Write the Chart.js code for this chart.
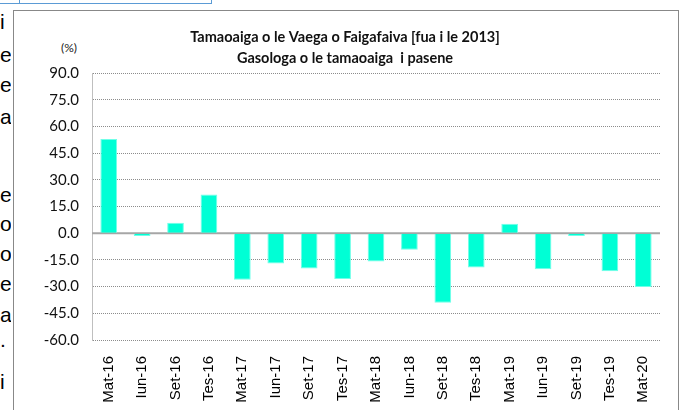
<!DOCTYPE html>
<html lang="sm">
<head>
    <meta charset="UTF-8">
    <title>Tamaoaiga o le Vaega o Faigafaiva</title>
    <script src="https://cdn.jsdelivr.net/npm/chart.js"></script>
    <style>
        body {
            margin: 0;
            width: 681px;
            height: 410px;
            overflow: hidden;
            background: #fff;
            position: relative;
            font-family: "Liberation Sans", Arial, sans-serif;
        }
        .topbox {
            position: absolute;
            left: -2px;
            top: -20px;
            width: 212px;
            height: 22px;
            border: 1px solid #5b9bd5;
        }
        .topbox-div {
            position: absolute;
            left: 19px;
            top: -20px;
            width: 0;
            height: 23px;
            border-left: 1px solid #5b9bd5;
        }
        .side {
            position: absolute;
            left: 0;
            top: 0;
            width: 11px;
            height: 410px;
            overflow: hidden;
        }
        .side span {
            position: absolute;
            left: 0;
            font-size: 21px;
            line-height: 21px;
            color: #000;
        }
        .frame {
            position: absolute;
            left: 13px;
            top: 10px;
            width: 664px;
            height: 420px;
            border: 1px solid #888;
        }
        .unit {
            position: absolute;
            left: 61px;
            top: 40px;
            font-family: Lato, sans-serif;
            font-size: 12px;
            color: #222;
        }
        canvas {
            position: absolute;
            left: 0;
            top: 0;
        }
    </style>
</head>
<body>
    <div class="topbox"></div>
    <div class="topbox-div"></div>
    <div class="side">
        <span style="top:11px">i</span>
        <span style="top:44px">e</span>
        <span style="top:74px">e</span>
        <span style="top:106px">a</span>
        <span style="top:184px">e</span>
        <span style="top:213px">o</span>
        <span style="top:243px">o</span>
        <span style="top:273px">e</span>
        <span style="top:304px">a</span>
        <span style="top:329px">.</span>
        <span style="top:371px">i</span>
    </div>
    <div class="frame"></div>
    <div class="unit">(%)</div>
    <canvas id="chart" width="681" height="410"></canvas>

    <script>
        // kuata
        const quarters = ['Mat-16', 'Iun-16', 'Set-16', 'Tes-16', 'Mat-17', 'Iun-17', 'Set-17', 'Tes-17',
                          'Mat-18', 'Iun-18', 'Set-18', 'Tes-18', 'Mat-19', 'Iun-19', 'Set-19', 'Tes-19', 'Mat-20'];
        // gasologa o le tamaoaiga i pasene (%)
        const growth = [52.9, -1.5, 5.9, 21.8, -26.2, -17.0, -19.8, -25.7,
                        -15.9, -9.3, -39.1, -19.3, 5.3, -20.2, -1.5, -21.3, -30.2];
        const titleLines = ['Tamaoaiga o le Vaega o Faigafaiva [fua i le 2013]',
                            'Gasologa o le tamaoaiga  i pasene'];
        const yMin = -60, yMax = 90, yStep = 15;

        // linea o le zero
        const zeroLine = {
            id: 'zeroLine',
            beforeDatasetsDraw(chart) {
                const y = chart.scales.y.getPixelForValue(0);
                const { left, right } = chart.chartArea;
                const ctx = chart.ctx;
                ctx.save();
                ctx.strokeStyle = '#a6a6a6';
                ctx.lineWidth = 2;
                ctx.beginPath();
                ctx.moveTo(left, y);
                ctx.lineTo(right, y);
                ctx.stroke();
                ctx.restore();
            }
        };

        new Chart(document.getElementById('chart'), {
            type: 'bar',
            data: {
                labels: quarters,
                datasets: [{
                    data: growth,
                    backgroundColor: '#00ffd5',
                    borderColor: '#70ffe8',
                    borderWidth: 1,
                    barPercentage: 0.5,
                    categoryPercentage: 1.0
                }]
            },
            options: {
                responsive: false,
                animation: false,
                layout: { padding: { left: 30, right: 21, top: 0, bottom: 0 } },
                plugins: {
                    legend: { display: false },
                    tooltip: { enabled: false },
                    title: {
                        display: true,
                        text: titleLines,
                        color: '#111',
                        font: { family: 'Lato, sans-serif', size: 14.5, weight: 'bold', lineHeight: 1.45 },
                        padding: { top: 27, bottom: 4 }
                    }
                },
                scales: {
                    x: {
                        grid: { display: false },
                        border: { display: false },
                        ticks: {
                            color: '#000',
                            font: { family: '"Liberation Sans", Arial, sans-serif', size: 15 },
                            minRotation: 90,
                            maxRotation: 90,
                            padding: 8,
                            autoSkip: false
                        },
                        afterFit(scale) { scale.height = 70; }
                    },
                    y: {
                        min: yMin,
                        max: yMax,
                        grid: {
                            color: '#8c8c8c',
                            lineWidth: 1,
                            drawTicks: false
                        },
                        border: { display: true, color: '#bfbfbf', dash: [1, 1] },
                        ticks: {
                            stepSize: yStep,
                            color: '#111',
                            padding: 13,
                            font: { family: 'Lato, sans-serif', size: 15 },
                            callback: v => v.toFixed(1)
                        },
                        afterFit(scale) { scale.width = 62; }
                    }
                }
            },
            plugins: [zeroLine]
        });
    </script>
</body>
</html>
